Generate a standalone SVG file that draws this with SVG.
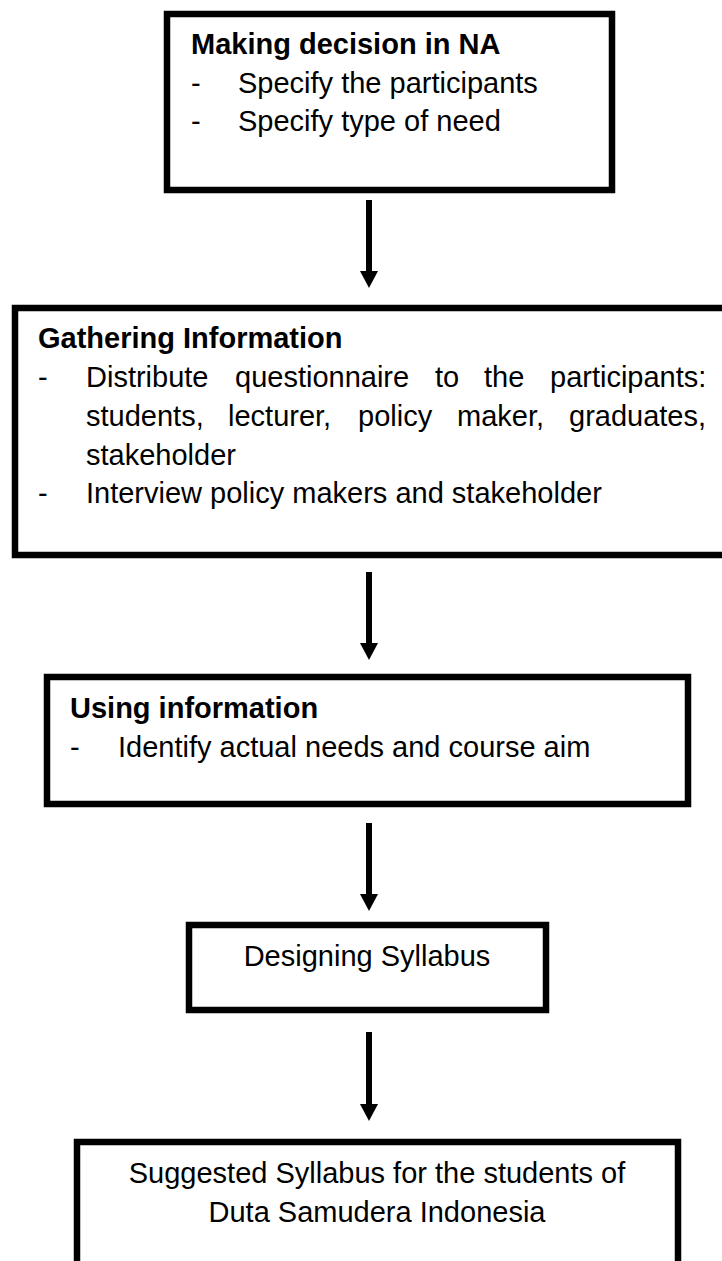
<svg xmlns="http://www.w3.org/2000/svg" width="722" height="1261" viewBox="0 0 722 1261">
  <style>
    .box { fill: #ffffff; stroke: #000000; stroke-width: 6.5; }
    .link { fill: none; stroke: #000000; stroke-width: 6; }
    text { font-family: "Liberation Sans", Arial, sans-serif; font-size: 29px; fill: #000000; }
    .title { font-weight: bold; }
    .center { text-anchor: middle; }
  </style>
  <defs>
    <marker id="arrowhead" viewBox="0 0 17 18" refX="3" refY="9" markerWidth="17" markerHeight="18" markerUnits="userSpaceOnUse" orient="auto">
      <path d="M0,0 L17,9 L0,18 z" fill="#000000"/>
    </marker>
  </defs>
  <rect width="722" height="1261" fill="#ffffff"/>

  <!-- Step 1: decision -->
  <g id="decision">
    <rect class="box" x="167" y="14" width="445" height="176"/>
    <text class="title" x="191" y="54">Making decision in NA</text>
    <text x="191" y="93">-</text>
    <text x="238" y="93">Specify the participants</text>
    <text x="191" y="131">-</text>
    <text x="238" y="131">Specify type of need</text>
  </g>

  <!-- Step 2: gathering information (runs off the right edge) -->
  <g id="gathering">
    <rect class="box" x="15" y="308" width="720" height="247"/>
    <text class="title" x="38" y="348">Gathering Information</text>
    <text x="38" y="387">-</text>
    <text y="387"><tspan x="86">Distribute</tspan><tspan x="235">questionnaire</tspan><tspan x="435">to</tspan><tspan x="484">the</tspan><tspan x="550">participants:</tspan></text>
    <text y="426"><tspan x="86">students,</tspan><tspan x="228">lecturer,</tspan><tspan x="358">policy</tspan><tspan x="457">maker,</tspan><tspan x="569">graduates,</tspan></text>
    <text x="86" y="465">stakeholder</text>
    <text x="38" y="503">-</text>
    <text x="86" y="503">Interview policy makers and stakeholder</text>
  </g>

  <!-- Step 3: using information -->
  <g id="using">
    <rect class="box" x="47" y="677" width="641" height="127"/>
    <text class="title" x="70" y="718">Using information</text>
    <text x="70" y="757">-</text>
    <text x="118" y="757">Identify actual needs and course aim</text>
  </g>

  <!-- Step 4: designing syllabus -->
  <g id="designing">
    <rect class="box" x="189" y="925" width="357" height="85"/>
    <text class="center" x="367" y="966">Designing Syllabus</text>
  </g>

  <!-- Step 5: result (runs off the bottom edge) -->
  <g id="suggested">
    <rect class="box" x="77" y="1142" width="601" height="200"/>
    <text class="center" x="377" y="1183">Suggested Syllabus for the students of</text>
    <text class="center" x="377" y="1222">Duta Samudera Indonesia</text>
  </g>

  <!-- Connectors -->
  <g id="connectors">
    <line class="link" x1="369" y1="200" x2="369" y2="274" marker-end="url(#arrowhead)"/>
    <line class="link" x1="369" y1="572" x2="369" y2="646" marker-end="url(#arrowhead)"/>
    <line class="link" x1="369" y1="823" x2="369" y2="897" marker-end="url(#arrowhead)"/>
    <line class="link" x1="369" y1="1032" x2="369" y2="1107" marker-end="url(#arrowhead)"/>
  </g>
</svg>
